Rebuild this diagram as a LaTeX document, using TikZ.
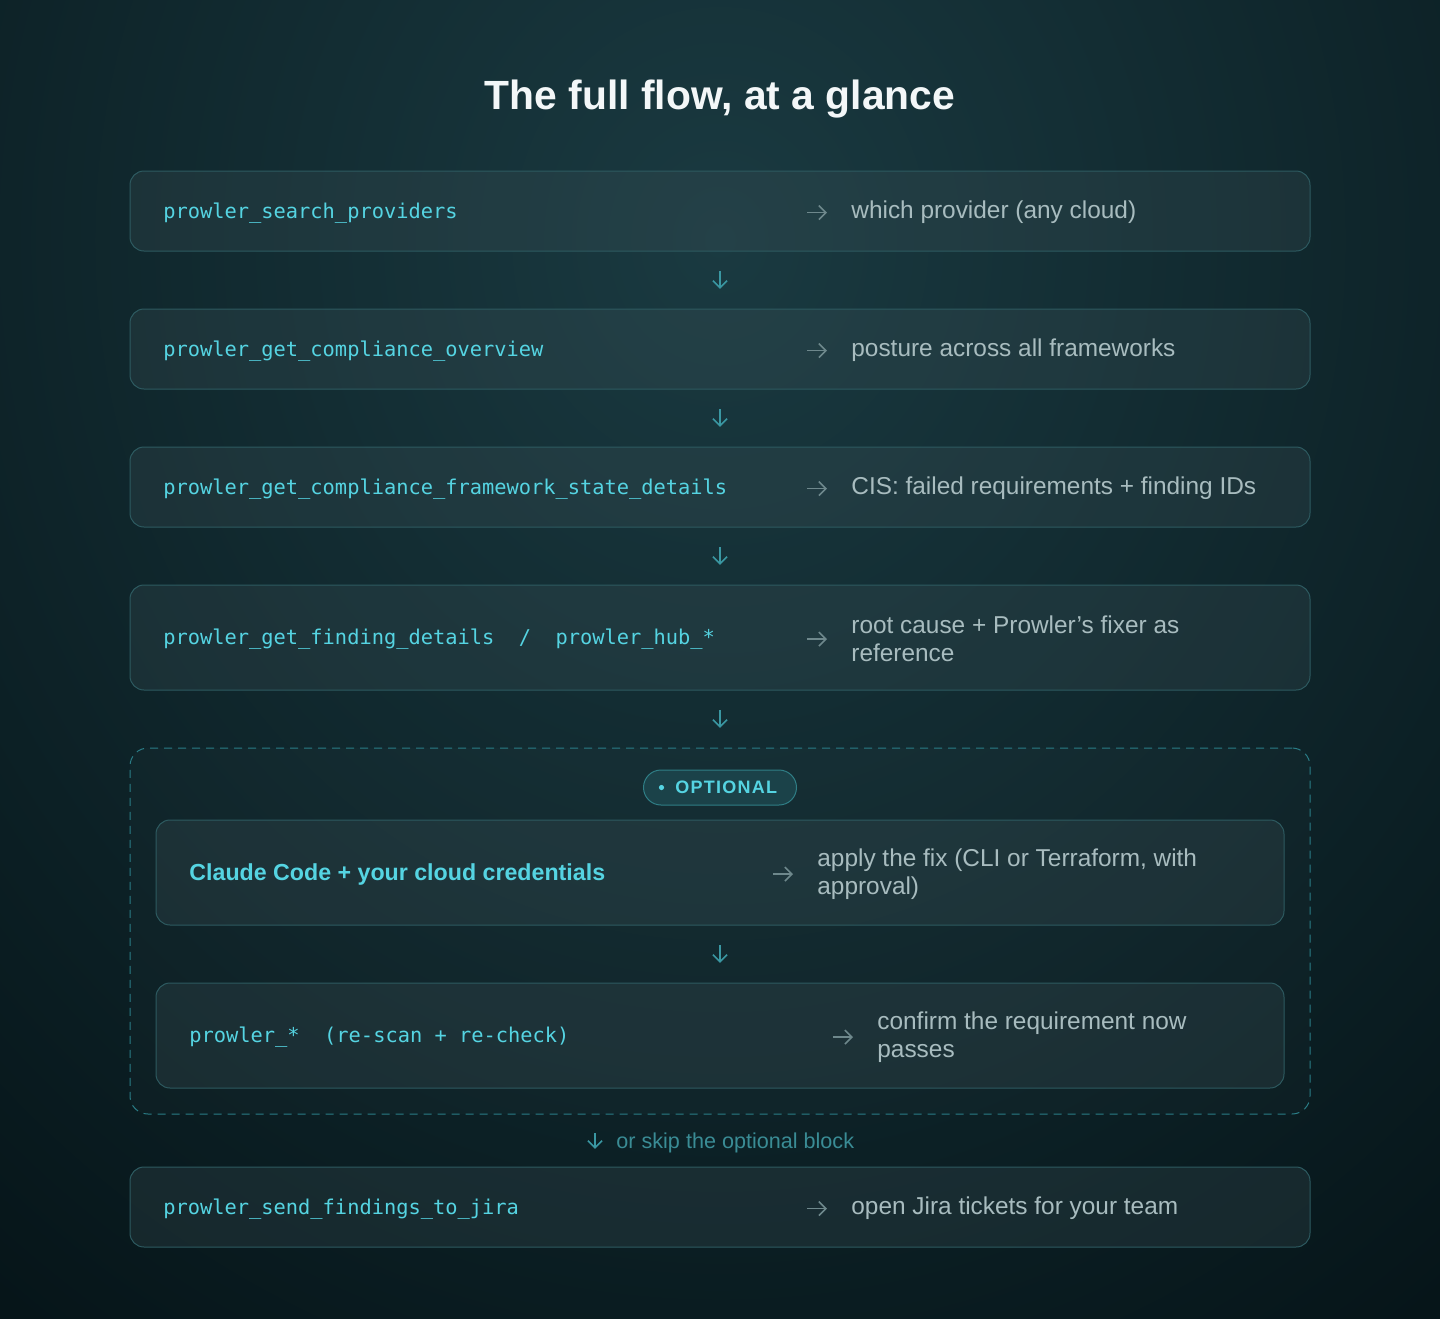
\documentclass[tikz,border=0pt]{standalone}
\usepackage{fontspec}
\setmainfont{Liberation Sans}
\setmonofont{DejaVu Sans Mono}
\usetikzlibrary{arrows.meta,calc}
\definecolor{bgdark}{HTML}{051317}
\definecolor{bglight}{HTML}{1A3A41}
\definecolor{boxfill}{HTML}{44595F}
\definecolor{boxline}{HTML}{2D5A60}
\definecolor{cyantext}{HTML}{55D4E2}
\definecolor{greytext}{HTML}{A8BCBF}
\definecolor{arrgrey}{HTML}{6E888C}
\definecolor{arrteal}{HTML}{3A97A2}
\definecolor{skiptext}{HTML}{3A8C95}
\definecolor{dashline}{HTML}{2A7D87}
\definecolor{pillfill}{HTML}{1B4249}
\definecolor{pillline}{HTML}{2F7E86}
\definecolor{titletext}{HTML}{F3F7F8}
\tikzset{
  stepbox/.style={draw=boxline, line width=0.5pt, fill=boxfill, fill opacity=0.24, draw opacity=1,
    rounded corners=7pt, minimum width=590pt, inner sep=0pt},
  innerbox/.style={stepbox, minimum width=564pt, minimum height=52.5pt},
  monotxt/.style={font=\ttfamily\fontsize{10.18pt}{12pt}\selectfont, text=cyantext, anchor=west, inner sep=0pt, yshift=-1pt},
  bodytxt/.style={font=\fontsize{12.2pt}{14pt}\selectfont, text=greytext, anchor=west, align=left, inner sep=0pt, yshift=-0.8pt},
  rarr/.style={draw=arrgrey, line width=0.8pt, -{Straight Barb[length=3.5pt,width=7pt]}},
  darr/.style={draw=arrteal, line width=0.8pt, -{Straight Barb[length=3.5pt,width=7pt]}},
}
\newcommand{\rightarrowto}[1]{\draw[rarr] ([xshift=-22pt]#1.west) -- ([xshift=-12pt]#1.west);}
\begin{document}
\begin{tikzpicture}[x=0.5pt,y=-0.5pt]
\useasboundingbox (0,0) rectangle (1440,1318);
% background
\fill[bgdark] (0,0) rectangle (1440,1318);
\begin{scope}
  \clip (0,0) rectangle (1440,1318);
  \shade[inner color=bglight, outer color=bgdark] (720,240) ellipse [x radius=1250, y radius=1400];
\end{scope}
% title
\node[font=\bfseries\fontsize{20.4pt}{24pt}\selectfont, text=titletext] (title) at (720,99) {The full flow, at a glance};
% boxes
\node[stepbox, minimum height=40pt] (b1) at (720,211) {};
\node[stepbox, minimum height=40pt] (b2) at (720,349) {};
\node[stepbox, minimum height=40pt] (b3) at (720,487) {};
\node[stepbox, minimum height=52.5pt] (b4) at (720,637.5) {};
\node[draw=dashline, line width=0.5pt, dash pattern=on 4pt off 3pt, rounded corners=9pt,
      fill=white, fill opacity=0.015, minimum width=590pt, minimum height=183pt] (opt) at (720,931) {};
\node[innerbox] (iA) at (720,872.5) {};
\node[innerbox] (iB) at (720,1035.5) {};
\node[stepbox, minimum height=40pt] (last) at (720,1207) {};
% pill
\node[draw=pillline, fill=pillfill, line width=0.5pt, rounded corners=8.75pt, minimum width=76.5pt,
      minimum height=17.5pt, inner sep=0pt] (pill) at (720,787.5) {};
\fill[cyantext] (661.5,787.5) circle (2.6);
\node[font=\bfseries\fontsize{9pt}{11pt}\selectfont\addfontfeature{LetterSpace=7}, text=cyantext, anchor=west, inner sep=0pt] (optlbl) at (675,787.5) {OPTIONAL};
% left texts
\node[monotxt] (l1) at (163,211) {prowler\_search\_providers};
\node[monotxt] (l2) at (163,349) {prowler\_get\_compliance\_overview};
\node[monotxt] (l3) at (163,487) {prowler\_get\_compliance\_framework\_state\_details};
\node[monotxt] (l4) at (163,637.5) {prowler\_get\_finding\_details\ \ /\ \ prowler\_hub\_*};
\node[font=\bfseries\fontsize{11.6pt}{14pt}\selectfont, text=cyantext, anchor=west, inner sep=0pt, yshift=-0.8pt] (lA) at (189,872.5) {Claude Code + your cloud credentials};
\node[monotxt] (lB) at (189,1035.5) {prowler\_*\ \ (re-scan + re-check)};
\node[monotxt] (l6) at (163,1207) {prowler\_send\_findings\_to\_jira};
% right texts
\node[bodytxt] (r1) at (851,211) {which provider (any cloud)};
\node[bodytxt] (r2) at (851,349) {posture across all frameworks};
\node[bodytxt] (r3) at (851,487) {CIS: failed requirements + finding IDs};
\node[bodytxt] (r4) at (851,637.5) {root cause + Prowler’s fixer as\\reference};
\node[bodytxt] (rA) at (817,872.5) {apply the fix (CLI or Terraform, with\\approval)};
\node[bodytxt] (rB) at (877,1035.5) {confirm the requirement now\\passes};
\node[bodytxt] (r6) at (851,1207) {open Jira tickets for your team};
% right arrows
\rightarrowto{r1}
\rightarrowto{r2}
\rightarrowto{r3}
\rightarrowto{r4}
\rightarrowto{rA}
\rightarrowto{rB}
\rightarrowto{r6}
% down arrows
\draw[darr] ($(b1.south)!0.345!(b2.north)$) -- ($(b1.south)!0.655!(b2.north)$);
\draw[darr] ($(b2.south)!0.345!(b3.north)$) -- ($(b2.south)!0.655!(b3.north)$);
\draw[darr] ($(b3.south)!0.345!(b4.north)$) -- ($(b3.south)!0.655!(b4.north)$);
\draw[darr] ($(b4.south)!0.345!(opt.north)$) -- ($(b4.south)!0.655!(opt.north)$);
\draw[darr] ($(iA.south)!0.345!(iB.north)$) -- ($(iA.south)!0.655!(iB.north)$);
% skip arrow
\coordinate (skipS) at ($(opt.south)!0.36!(last.north) + (-125,0)$);
\coordinate (skipE) at ($(opt.south)!0.66!(last.north) + (-125,0)$);
\draw[darr] (skipS) -- (skipE);
\node[font=\fontsize{10.8pt}{12pt}\selectfont, text=skiptext, anchor=west, inner sep=0pt, yshift=-0.8pt] (skip) at ($(opt.south)!0.51!(last.north) + (-104,0)$) {or skip the optional block};
\end{tikzpicture}
\end{document}
